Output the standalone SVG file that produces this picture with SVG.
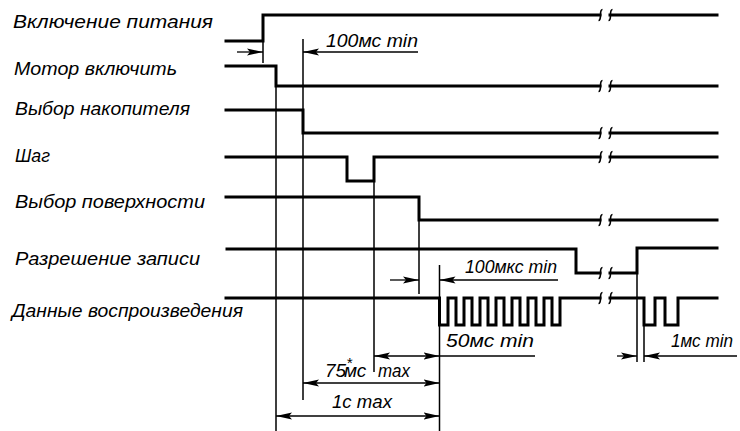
<svg xmlns="http://www.w3.org/2000/svg" width="740" height="431" viewBox="0 0 740 431">
<style>
  .sig{fill:none;stroke:#000;stroke-width:3;stroke-linejoin:miter;stroke-linecap:square}
  .thin{fill:none;stroke:#000;stroke-width:1.5}
  .brk{fill:none;stroke:#000;stroke-width:1.6}
  .dim{fill:none;stroke:#000;stroke-width:1.3}
  .a{marker-end:url(#arr)}
  .aa{marker-start:url(#arr);marker-end:url(#arr)}
  text{font-family:"Liberation Sans",Arial,sans-serif;font-style:italic;font-size:19px;fill:#000}
</style>
<defs>
  <marker id="arr" markerUnits="userSpaceOnUse" markerWidth="17" markerHeight="9" refX="16" refY="4.5" orient="auto-start-reverse">
    <path d="M0,1 L16,4.5 L0,8 L3,4.5 z" fill="#000"/>
  </marker>
  <path id="bm" d="M-1.5,5.5 Q0.5,5.5 0.5,0 Q0.5,-5.5 2.5,-5.5 M8.5,5.5 Q10.5,5.5 10.5,0 Q10.5,-5.5 12.5,-5.5" class="brk"/>
</defs>

<g id="labels">
  <text id="l1" x="13" y="28" textLength="200" lengthAdjust="spacingAndGlyphs">Включение питания</text>
  <text id="l2" x="14" y="75" textLength="163" lengthAdjust="spacingAndGlyphs">Мотор включить</text>
  <text id="l3" x="15" y="115" textLength="175" lengthAdjust="spacingAndGlyphs">Выбор накопителя</text>
  <text id="l4" x="15" y="162" textLength="35" lengthAdjust="spacingAndGlyphs">Шаг</text>
  <text id="l5" x="15" y="208" textLength="190" lengthAdjust="spacingAndGlyphs">Выбор поверхности</text>
  <text id="l6" x="15" y="265" textLength="185" lengthAdjust="spacingAndGlyphs">Разрешение записи</text>
  <text id="l7" x="12" y="317" textLength="231" lengthAdjust="spacingAndGlyphs">Данные воспроизведения</text>
</g>

<g id="signals">
  <g id="s1"><path class="sig" d="M226,41 H263 V15 H600 M610,15 H717"/><use href="#bm" x="600" y="15"/></g>
  <g id="s2"><path class="sig" d="M226,66 H276 V86 H600 M610,86 H717"/><use href="#bm" x="600" y="86"/></g>
  <g id="s3"><path class="sig" d="M226,110 H303 V133 H600 M610,133 H717"/><use href="#bm" x="600" y="133"/></g>
  <g id="s4"><path class="sig" d="M226,157 H347 V181 H374 V157 H600 M610,157 H717"/><use href="#bm" x="600" y="157"/></g>
  <g id="s5"><path class="sig" d="M226,197 H419 V220 H600 M610,220 H717"/><use href="#bm" x="600" y="220"/></g>
  <g id="s6"><path class="sig" d="M227,249 H576 V273 H600 M610,273 H637 V248 H717"/><use href="#bm" x="600" y="273"/></g>
  <g id="s7"><path class="sig" d="M226,298 H439.5 V325 H448 V298 H456 V325 H464 V298 H472 V325 H480 V298 H488 V325 H496 V298 H504 V325 H512 V298 H520 V325 H528 V298 H536 V325 H544 V298 H552 V325 H560 V298 H600 M610,298 H644 V325 H655 V298 H665 V325 H678 V298 H717"/><use href="#bm" x="600" y="298"/></g>
</g>

<g id="connectors">
  <path class="thin" d="M263,41 V63 M276,86 V431 M303,39 V110 M303,133 V400 M374,181 V372 M419,220 V294 M439.5,265 V298 M439.5,325 V431 M637,273 V362 M644,325 V362"/>
  <path class="dim a" d="M237,52 H263"/>
  <path class="dim a" d="M418,52 H303"/>
  <path class="dim a" d="M390,280 H419"/>
  <path class="dim a" d="M558,280 H439.5"/>
  <path class="dim a" d="M407,356 H374"/>
  <path class="dim a" d="M407,356 H439.5"/>
  <path class="dim" d="M439.5,356 H535"/>
  <path class="dim aa" d="M303,383 H439.5"/>
  <path class="dim aa" d="M276,416 H439.5"/>
  <path class="dim a" d="M617,356 H637"/>
  <path class="dim a" d="M737,356 H644"/>
</g>

<g id="dimtext">
  <text x="326" y="47" textLength="92" lengthAdjust="spacingAndGlyphs">100мс min</text>
  <text x="465" y="273" textLength="92" lengthAdjust="spacingAndGlyphs">100мкс min</text>
  <text x="446" y="347" textLength="88" lengthAdjust="spacingAndGlyphs">50мс min</text>
  <text x="671" y="347" textLength="62" lengthAdjust="spacingAndGlyphs">1мс min</text>
  <text x="325" y="377">75<tspan dy="-9" style="font-size:15px">*</tspan><tspan dx="-8" dy="9">мс</tspan></text>
  <text x="378" y="377" textLength="32" lengthAdjust="spacingAndGlyphs">max</text>
  <text x="332" y="408" textLength="60" lengthAdjust="spacingAndGlyphs">1с max</text>
</g>
</svg>
